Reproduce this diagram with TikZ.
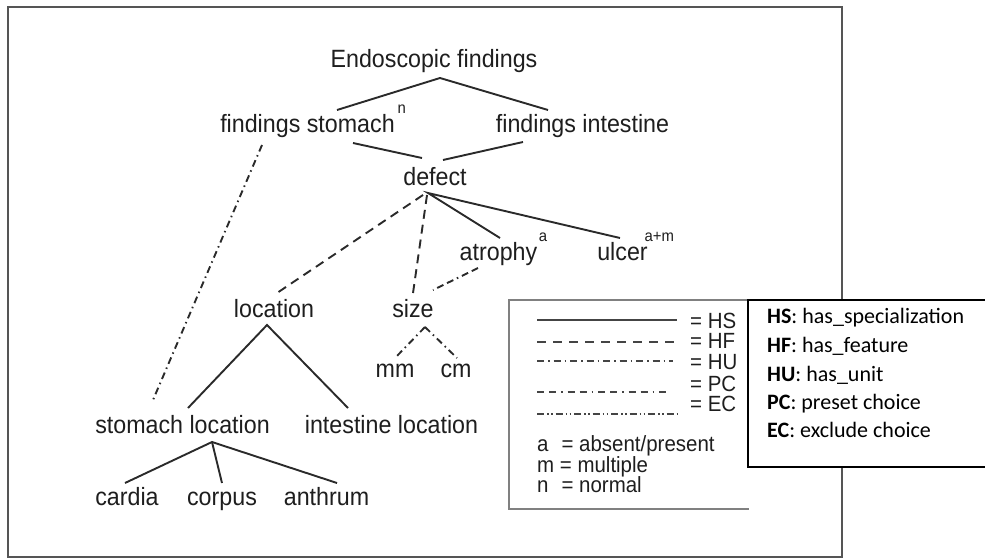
\documentclass[tikz,border=0pt]{standalone}
\usepackage{fontspec}
\setmainfont{Liberation Sans}[FakeStretch=0.93]
\newfontfamily\calfont{Carlito}
\definecolor{ink}{HTML}{1E1E1E}
\definecolor{edge}{HTML}{2A2A2A}
\definecolor{framegray}{HTML}{555555}
\definecolor{keygray}{HTML}{808080}
\definecolor{keyline}{HTML}{444444}
% superscript mark placed after a label without changing its width
\newcommand\supmark[3]{\rlap{\hspace{#1}\raisebox{#2}{\fontsize{16}{16}\selectfont #3}}}
\begin{document}
\begin{tikzpicture}[x=1pt,y=-1pt,
  lbl/.style={inner sep=0pt, anchor=base, text=ink, font=\fontsize{25}{29}\selectfont},
  keytxt/.style={inner sep=0pt, anchor=base west, text=ink, font=\fontsize{22}{26}\selectfont},
  deftxt/.style={inner sep=0pt, anchor=base west, text=black, font=\calfont\fontsize{22}{26}\selectfont},
  rel/.style={draw=edge, line width=1.9pt},
  hs/.style={rel},
  hf/.style={rel, dash pattern=on 9pt off 6pt},
  hu/.style={rel, dash pattern=on 7pt off 4pt on 1.5pt off 4pt},
  pc/.style={rel, dash pattern=on 7pt off 4pt on 7pt off 4pt on 1.5pt off 4pt},
  ec/.style={rel, dash pattern=on 7pt off 3pt on 1.5pt off 2.5pt on 1.5pt off 3pt},
  keysample/.style={draw=keyline, line width=2pt},
]
\useasboundingbox (0,0) rectangle (985,559);

% outer frame
\draw[framegray, line width=1.8pt] (8,7) rectangle (842,557);

% tree labels
\node[lbl] (endo)    at (434,68)    {Endoscopic findings};
\node[lbl] (fstom)   at (307.5,132) {findings stomach\supmark{3pt}{18pt}{n}};
\node[lbl] (fint)    at (582.5,132) {findings intestine};
\node[lbl] (defect)  at (435,185)   {defect};
\node[lbl] (atrophy) at (498.5,260) {atrophy\supmark{1.5pt}{19pt}{a}};
\node[lbl] (ulcer)   at (622.5,260) {ulcer\supmark{-3pt}{19pt}{a+m}};
\node[lbl] (loc)     at (274,317)   {location};
\node[lbl] (size)    at (413,317)   {size};
\node[lbl] (mm)      at (395,377)   {mm};
\node[lbl] (cm)      at (456,377)   {cm};
\node[lbl] (sloc)    at (182.5,433) {stomach location};
\node[lbl] (iloc)    at (391.5,433) {intestine location};
\node[lbl] (cardia)  at (127,505)   {cardia};
\node[lbl] (corpus)  at (222,505)   {corpus};
\node[lbl] (anthrum) at (326.5,505) {anthrum};

% relations
\draw[hs] ([shift={(29.5,-22)}]fstom.base) -- ([shift={(6,10)}]endo.base) -- ([shift={(-34.5,-22)}]fint.base);
\draw[hs] ([shift={(45.5,11)}]fstom.base) -- ([shift={(-13,-27)}]defect.base);
\draw[hs] ([shift={(-59.5,10)}]fint.base) -- ([shift={(8,-25)}]defect.base);
\draw[hs] ([shift={(1.5,-22)}]atrophy.base) -- ([shift={(-7,8)}]defect.base) -- ([shift={(-2.5,-22)}]ulcer.base);
\draw[hf] ([shift={(-12,10)}]defect.base) -- ([shift={(3,-24)}]loc.base);
\draw[hf] ([shift={(-8,10)}]defect.base) -- ([shift={(0,-24)}]size.base);
\draw[pc] ([shift={(-20.5,8)}]atrophy.base) -- ([shift={(20,-27)}]size.base);
\draw[hu] ([shift={(12,10)}]size.base) -- ([shift={(0,-19)}]mm.base);
\draw[hu] ([shift={(12,10)}]size.base) -- ([shift={(1,-19)}]cm.base);
\draw[hu] ([shift={(-45.5,13)}]fstom.base) -- ([shift={(-29.5,-33)}]sloc.base);
\draw[hs] ([shift={(5.5,-25)}]sloc.base) -- ([shift={(-7,8)}]loc.base) -- ([shift={(-43.5,-25)}]iloc.base);
\draw[hs] ([shift={(-2,-22)}]cardia.base) -- ([shift={(29.5,9)}]sloc.base) -- ([shift={(10.5,-22)}]anthrum.base);
\draw[hs] ([shift={(29.5,9)}]sloc.base) -- ([shift={(0,-22)}]corpus.base);

% key of line styles
\draw[keygray, line width=1.5pt] (749,300) -- (509,300) -- (509,509) -- (749,509);
\draw[keysample] (537,320) -- (677,320);
\draw[keysample, dash pattern=on 9pt off 7pt] (537,342) -- (677,342);
\draw[keysample, dash pattern=on 7pt off 4pt on 1.5pt off 4pt] (537,361) -- (673,361);
\draw[keysample, dash pattern=on 7pt off 5pt on 7pt off 5pt on 1.5pt off 5pt] (537,392) -- (667,392);
\draw[keysample, dash pattern=on 7pt off 3pt on 1.5pt off 2.5pt on 1.5pt off 3pt] (537,414) -- (677,414);
\node[keytxt] (kHS) at (690,328) {= HS};
\node[keytxt] (kHF) at (690,348) {= HF};
\node[keytxt] (kHU) at (690,369) {= HU};
\node[keytxt] (kPC) at (690,391) {= PC};
\node[keytxt] (kEC) at (690,411) {= EC};
\node[keytxt] (ka) at (537,451) {a\,\, = absent/present};
\node[keytxt] (km) at (537,472) {m = multiple};
\node[keytxt] (kn) at (537,492) {n\,\, = normal};

% abbreviations
\draw[black, line width=2.6pt, fill=white] (992,300) -- (748,300) -- (748,467) -- (992,467);
\node[deftxt] (dHS) at (767,323) {\textbf{HS}: has\_specialization};
\node[deftxt] (dHF) at (767,352) {\textbf{HF}: has\_feature};
\node[deftxt] (dHU) at (767,381) {\textbf{HU}: has\_unit};
\node[deftxt] (dPC) at (767,409) {\textbf{PC}: preset choice};
\node[deftxt] (dEC) at (767,437) {\textbf{EC}: exclude choice};
\end{tikzpicture}
\end{document}
